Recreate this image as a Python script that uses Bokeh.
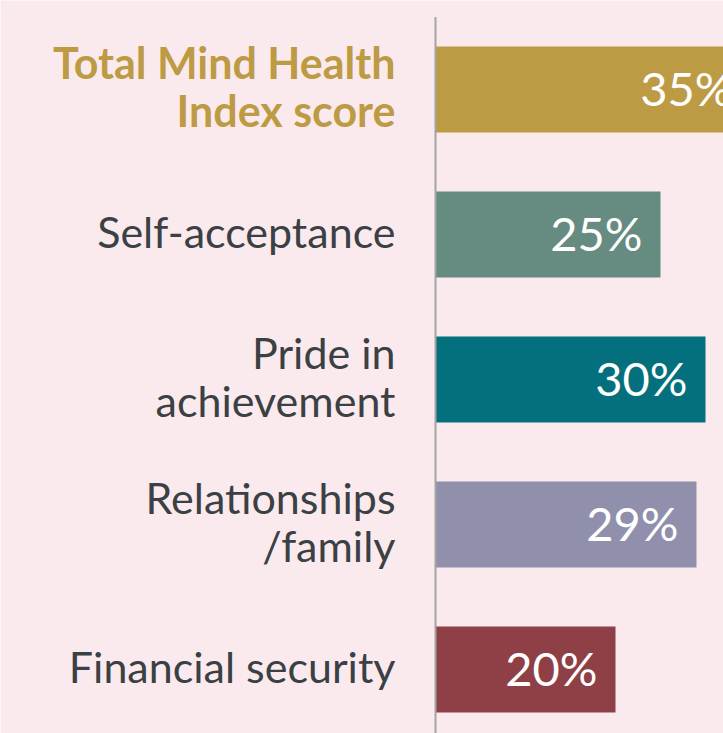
from bokeh.plotting import figure
from bokeh.models import Range1d, ColumnDataSource
from bokeh.core.properties import value
from bokeh.embed import file_html
from bokeh.resources import INLINE

categories = ["Total Mind Health\nIndex score", "Self-acceptance", "Pride in\nachievement",
              "Relationships\n/family", "Financial security"]
values = [35, 25, 30, 29, 20]
value_labels = ["35%", "25%", "30%", "29%", "20%"]
bar_colors = ["#BD9B45", "#668B80", "#04707D", "#9090AC", "#8F3F46"]
label_colors = ["#BD9B45", "#3A4043", "#3A4043", "#3A4043", "#3A4043"]
label_styles = ["bold", "normal", "normal", "normal", "normal"]

BG = "#FBEAED"
FONT = "Lato"
pos = list(range(len(categories)))

W, H = 723, 733
ppx = 9.0      # pixels per percentage point
ppy = 145.0    # pixels per category band
x0 = 435.0     # x of the zero line
y0 = 89.0      # y of first category centre

p = figure(width=W, height=H, output_backend="svg", toolbar_location=None,
           x_range=Range1d(-x0 / ppx, (W - x0) / ppx),
           y_range=Range1d((H - y0) / ppy, -y0 / ppy),
           min_border=0, background_fill_color=BG, border_fill_color=BG)
p.axis.visible = False
p.grid.visible = False
p.outline_line_color = None

src = ColumnDataSource(dict(y=pos, v=values, c=bar_colors, lab=value_labels,
                            cat=categories, lc=label_colors, ls=label_styles,
                            vx=[v - 2 for v in values], cx=[-40 / ppx] * len(pos)))

p.hbar(y="y", left=0, right="v", height=86 / ppy, fill_color="c", line_color=None, source=src)
p.segment(x0=[0], x1=[0], y0=[-0.5], y1=[len(pos) - 0.5], line_color="#A3A3A3", line_width=2)

p.text(x="vx", y="y", text="lab", source=src, text_color="white", text_font=value(FONT),
       text_font_size="47px", text_align="right", text_baseline="middle", y_offset=-2)
p.text(x="cx", y="y", text="cat", source=src, text_color="lc", text_font=value(FONT),
       text_font_style="ls", text_font_size="43px", text_align="right", text_baseline="middle",
       text_line_height=0.93, y_offset=-3)

open("out.html", "w").write(file_html(p, INLINE))
